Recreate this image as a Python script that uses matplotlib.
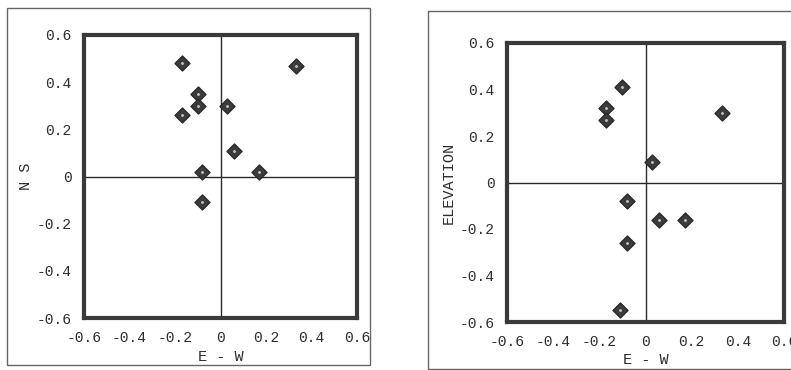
import matplotlib
matplotlib.use("Agg")
import matplotlib.pyplot as plt
from matplotlib.patches import Rectangle

# Left panel: E-W vs N S
ew_left = [-0.17, 0.33, -0.10, -0.10, 0.03, -0.17, 0.06, -0.08, 0.17, -0.08]
ns_left = [0.48, 0.47, 0.35, 0.30, 0.30, 0.26, 0.11, 0.02, 0.02, -0.11]

# Right panel: E-W vs ELEVATION
ew_right = [-0.10, -0.17, -0.17, 0.33, 0.03, -0.08, 0.06, 0.17, -0.08, -0.11]
elev_right = [0.41, 0.32, 0.27, 0.30, 0.09, -0.08, -0.16, -0.16, -0.26, -0.55]

tick_vals = [-0.6, -0.4, -0.2, 0, 0.2, 0.4, 0.6]
tick_labels = ["-0.6", "-0.4", "-0.2", "0", "0.2", "0.4", "0.6"]
inner_ticks = [-0.4, -0.2, 0.2, 0.4]

W, H = 791, 370
fig = plt.figure(figsize=(W / 100, H / 100), dpi=100)
fig.patch.set_facecolor("white")

FONT = "Liberation Mono"
SP = "#3a3a3a"
TXT = "#2e2e2e"


def fx(px):
    return px / W


def fy(py):
    return 1 - py / H


def make_panel(rect, xs, ys, ylabel, yticks_drawn, ylab_x, xlab_y):
    l, t, r, b = rect
    ax = fig.add_axes([fx(l), fy(b), fx(r) - fx(l), fy(t) - fy(b)])
    ax.set_xlim(-0.6, 0.6)
    ax.set_ylim(-0.6, 0.6)
    for s in ax.spines.values():
        s.set_linewidth(3.0)
        s.set_color(SP)
    ax.axhline(0, color="#2a2a2a", lw=1.0, zorder=1)
    ax.axvline(0, color="#2a2a2a", lw=1.0, zorder=1)
    ax.scatter(xs, ys, marker="D", s=58, color="#3c3c3c", edgecolors="#2a2a2a",
               linewidths=1.0, zorder=3)
    ax.scatter(xs, ys, marker="o", s=1.2, color="#bdbdbd", zorder=4)
    ax.set_xticks(tick_vals)
    ax.set_xticklabels(tick_labels, family=FONT, fontsize=10.5, color=TXT)
    ax.set_yticks(tick_vals)
    ax.set_yticklabels(tick_labels, family=FONT, fontsize=10.5, color=TXT)
    ax.tick_params(axis="both", which="major", length=0, pad=9)
    ax.set_xticks(inner_ticks, minor=True)
    ax.tick_params(axis="x", which="minor", direction="in", length=10, width=1.6,
                   color=SP)
    if yticks_drawn:
        ax.set_yticks(inner_ticks, minor=True)
        ax.tick_params(axis="y", which="minor", direction="in", length=7,
                       width=1.6, color=SP)
    else:
        ax.set_yticks([], minor=True)
    fig.text(fx(ylab_x), fy((t + b) / 2), ylabel, rotation=90, ha="center",
             va="center", family=FONT, fontsize=11, color=TXT)
    fig.text(fx((l + r) / 2), fy(xlab_y), "E - W", ha="center", va="center",
             family=FONT, fontsize=11, color=TXT)
    return ax


# outer frames
fig.patches.append(Rectangle((fx(7), fy(365)), fx(370) - fx(7), fy(8) - fy(365),
                             transform=fig.transFigure, fill=False,
                             edgecolor="#666666", lw=1.0))
fig.patches.append(Rectangle((fx(428), fy(369)), fx(830) - fx(428), fy(11) - fy(369),
                             transform=fig.transFigure, fill=False,
                             edgecolor="#666666", lw=1.0, clip_on=False))

make_panel((84, 35, 357, 318), ew_left, ns_left, "N S", False, 26, 357)
make_panel((507, 43, 784, 322), ew_right, elev_right, "ELEVATION", True, 449, 360)

fig.savefig("out.png", dpi=100, facecolor="white")
